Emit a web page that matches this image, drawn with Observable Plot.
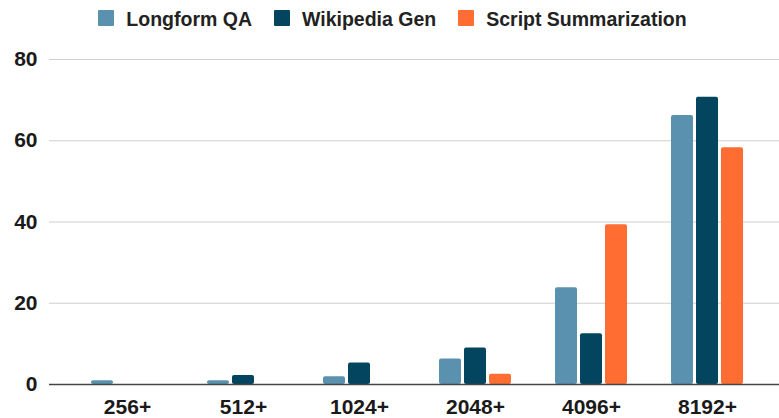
<!DOCTYPE html>
<html>
<head>
<meta charset="utf-8">
<script src="https://cdn.jsdelivr.net/npm/d3@7"></script>
<script src="https://cdn.jsdelivr.net/npm/@observablehq/plot@0.6"></script>
<style>
  html, body { margin: 0; padding: 0; background: #fff; }
  body { width: 779px; height: 418px; overflow: hidden; font-family: "Liberation Sans", Arial, sans-serif; }
  #legend { height: 36px; display: flex; align-items: center; justify-content: center; padding-left: 6px; box-sizing: border-box; font-weight: bold; font-size: 19.5px; color: #222; }
  #legend .item { display: flex; align-items: center; margin: 0 11px; }
  #legend .sw { width: 16px; height: 16px; border-radius: 1px; margin-right: 12px; }
  #legend .item span.t { position: relative; top: 1px; }
</style>
</head>
<body>
<div id="legend"></div>
<div id="chart"></div>
<script>
const bins = ["256+", "512+", "1024+", "2048+", "4096+", "8192+"];
const seriesNames = ["Longform QA", "Wikipedia Gen", "Script Summarization"];
const seriesColors = ["#5a91ae", "#03445f", "#ff6d33"];
const longformQA = [0.9, 0.9, 1.9, 6.3, 23.8, 66.2];
const wikipediaGen = [0, 2.2, 5.3, 9.0, 12.5, 70.7];
const scriptSummarization = [0, 0, 0, 2.5, 39.3, 58.3];
const yTicks = [0, 20, 40, 60, 80];

const seriesValues = [longformQA, wikipediaGen, scriptSummarization];
const data = [];
seriesNames.forEach((s, i) => {
  bins.forEach((b, j) => data.push({bin: b, series: s, value: seriesValues[i][j]}));
});

// legend
const legend = document.getElementById("legend");
seriesNames.forEach((s, i) => {
  const it = document.createElement("div");
  it.className = "item";
  it.innerHTML = `<div class="sw" style="background:${seriesColors[i]}"></div><span class="t">${s}</span>`;
  legend.appendChild(it);
});

const offsets = [-25, 0, 25];
const barMarks = seriesNames.map((s, i) =>
  Plot.barY(data.filter(d => d.series === s && d.value > 0), {
    x: "bin", y: "value", fill: "series",
    dx: offsets[i], insetLeft: 47, insetRight: 47, rx: 2
  })
);

const chart = Plot.plot({
  width: 779,
  height: 382,
  marginTop: 23,
  marginBottom: 34,
  marginLeft: 49,
  marginRight: 0,
  style: {fontFamily: "'Liberation Sans', Arial, sans-serif", background: "#fff"},
  x: {domain: bins, range: [69, 765], padding: 0, label: null},
  y: {domain: [0, 80], ticks: yTicks, label: null},
  color: {domain: seriesNames, range: seriesColors},
  marks: [
    Plot.ruleY(yTicks.filter(t => t > 0), {stroke: "#cfcfcf", strokeWidth: 1.2, strokeOpacity: 1}),
    ...barMarks,
    Plot.ruleY([0], {stroke: "#444", strokeWidth: 1.3}),
    Plot.axisY({ticks: yTicks, tickSize: 0, tickPadding: 12, fontSize: 21, fontWeight: "bold", fill: "#1a1a1a", label: null}),
    Plot.axisX({tickSize: 0, tickPadding: 15, fontSize: 21, fontWeight: "bold", fill: "#1a1a1a", label: null})
  ]
});
document.getElementById("chart").appendChild(chart);
</script>
</body>
</html>
